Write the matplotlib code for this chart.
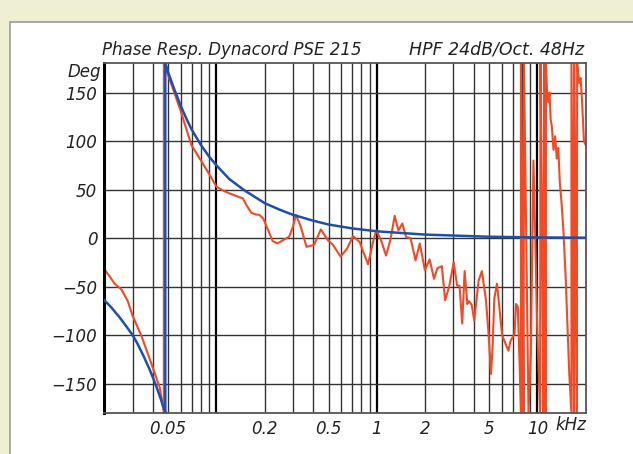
import numpy as np
import matplotlib.pyplot as plt
from matplotlib.patches import Rectangle

# phase response (kHz / degrees)
# blue = target 4th order HPF at 48 Hz (wraps -180 -> +180 at 48 Hz)
blue_f = [0.02, 0.022, 0.025, 0.028, 0.03, 0.032, 0.035, 0.038, 0.04, 0.042,
          0.045, 0.046, 0.047, 0.048,
          0.048, 0.049, 0.05, 0.052, 0.055, 0.06, 0.065, 0.07, 0.08, 0.09, 0.1,
          0.12, 0.15, 0.2, 0.25, 0.3, 0.4, 0.5, 0.7, 1, 2, 5, 10, 20]
blue_p = [-64, -71, -82, -93, -100, -108, -121, -134, -143, -152, -166, -171, -175, -180,
          180, 176, 171, 163, 152, 136, 123, 112, 96, 84, 75, 61, 49, 36, 29, 24,
          18, 14, 10, 7, 3.6, 1.4, 0.7, 0.4]

# red = measured phase, Dynacord PSE 215
red_f = [0.02, 0.0217, 0.0232, 0.0256, 0.028, 0.03, 0.0341, 0.0394, 0.0443, 0.047,
         0.047, 0.0475, 0.048, 0.052, 0.0596, 0.0698, 0.0794, 0.0894, 0.1, 0.11, 0.121,
         0.135, 0.146, 0.155, 0.165, 0.175, 0.185, 0.196, 0.21, 0.224, 0.24, 0.264,
         0.284, 0.3, 0.313, 0.335, 0.364, 0.406, 0.447, 0.494, 0.532, 0.594, 0.65,
         0.71, 0.78, 0.88, 0.946, 0.99, 1.06, 1.14, 1.22, 1.29, 1.36, 1.44, 1.52,
         1.62, 1.74, 1.85, 1.99, 2.13, 2.27, 2.38, 2.54, 2.66, 2.82, 3.01, 3.16,
         3.27, 3.4, 3.52, 3.66, 3.75, 3.9, 4.04, 4.3, 4.51, 4.78, 4.94, 5.14, 5.26,
         5.39, 5.6, 5.79, 6.03, 6.4, 6.6, 6.8, 7.2, 7.36, 7.55, 7.75, 7.9,
         7.9, 8.05, 8.2, 8.25, 8.5, 8.8, 9.1, 9.3, 9.45, 9.7, 10.0, 10.4,
         10.45, 10.7, 10.9, 11.0, 11.3, 11.3, 11.5, 11.7, 11.9, 12.1, 12.3, 12.6,
         12.9, 13.2, 13.5, 13.8, 14.1, 14.5, 15.0, 15.4, 15.8, 16.3,
         16.3, 16.6, 16.9, 16.95, 17.3, 17.6, 17.7, 18.2, 18.6, 19.0, 19.5, 20.0]
red_p = [-32, -40, -47, -53, -65, -80, -101, -130, -154, -180,
         180, 179, 176, 160, 132, 96, 81, 67, 53, 49, 46,
         43, 41, 33, 26, 24.5, 24, 20, 8, -3, -5.5, -1.5,
         1.5, 12, 24, 12, -9, -7, 9, -2, -7, -19, -11,
         2, -4, -27, -4, 8, -2, -18, 0, 23, 8, 15, 1,
         0, -23, -5.5, -33, -22, -42, -31, -29, -64, -50, -25, -49,
         -49, -88, -34, -68, -65, -69, -85, -44, -34, -64, -94, -140, -111,
         -62, -47, -71, -100, -111, -116, -106, -99, -68, -71, -130, -180,
         180, 20, -180, 180, 10, -180, -120, 0, 80, 0, -100, -180,
         180, 0, -180, 180, -180, 180, 150, 140, 150, 122, 115, 91,
         105, 82, 93, 57, 39, 10, -40, -90, -140, -180,
         180, 0, -180, 180, 0, -180, 180, 160, 165, 140, 100, 96]

freq_ticks = [0.05, 0.2, 0.5, 1, 2, 5, 10]
freq_labels = ["0.05", "0.2", "0.5", "1", "2", "5", "10"]
deg_ticks = [-150, -100, -50, 0, 50, 100, 150]

fig = plt.figure(figsize=(6.33, 4.54), dpi=100)
fig.patch.set_facecolor("#efefd3")
# white panel with grey border, behind everything
fig.patches.append(Rectangle((10/633, -0.01), 1.0, 1.01 - 22/454, transform=fig.transFigure,
                             facecolor="white", edgecolor="#9a9a9a", lw=1.2, zorder=-10))

ax = fig.add_axes([104.3/633, 1 - 412.7/454, (585.7 - 104.3)/633, (412.7 - 63.5)/454])
ax.set_zorder(5)
ax.set_xscale("log")
ax.set_xlim(0.02, 20)
ax.set_ylim(-180, 180)

# grid: every 1..9 step, decades heavier
for dec in [0.01, 0.1, 1, 10]:
    for m in range(1, 10):
        f = dec * m
        if f <= 0.02 or f >= 20:
            continue
        if m == 1:
            ax.axvline(f, color="black", lw=1.6, zorder=1)
        else:
            ax.axvline(f, color="#333333", lw=1.0, zorder=1)
for d in deg_ticks:
    ax.axhline(d, color="#333333", lw=1.0, zorder=1)

ax.plot(red_f, red_p, color="#f04a26", lw=1.5, zorder=2)
ax.plot(blue_f, blue_p, color="#1f4fa6", lw=1.8, zorder=3)

ax.minorticks_off()
ax.set_xticks(freq_ticks)
ax.set_xticklabels(freq_labels)
ax.set_yticks(deg_ticks)
ax.set_yticklabels([str(d).replace("-", "\u2212") for d in deg_ticks])
ax.tick_params(length=0, labelsize=12, pad=5)
for lab in ax.get_xticklabels() + ax.get_yticklabels():
    lab.set_fontstyle("italic")
    lab.set_color("#222222")

for s in ["top", "right", "bottom"]:
    ax.spines[s].set_color("#555555")
    ax.spines[s].set_linewidth(1.3)
ax.spines["left"].set_color("black")
ax.spines["left"].set_linewidth(2.2)

fig.text(102/633, 1 - 55/454, "Phase Resp. Dynacord PSE 215",
         fontsize=12, style="italic", color="#222222", ha="left", va="baseline")
fig.text(584/633, 1 - 55/454, "HPF 24dB/Oct. 48Hz",
         fontsize=12.5, style="italic", color="#222222", ha="right", va="baseline")
fig.text(101/633, 1 - 72/454, "Deg", fontsize=12, style="italic", color="#222222",
         ha="right", va="center")
fig.text(555/633, 1 - 425/454, "kHz", fontsize=12, style="italic", color="#222222",
         ha="left", va="center")

fig.savefig("out.png", dpi=100, facecolor=fig.get_facecolor())
